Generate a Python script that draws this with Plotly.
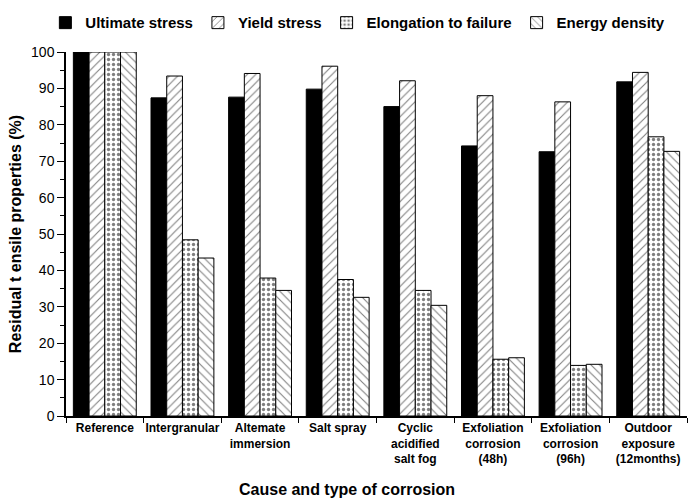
import plotly.graph_objects as go

categories = [
    "Reference",
    "Intergranular",
    "Altemate<br>immersion",
    "Salt spray",
    "Cyclic<br>acidified<br>salt fog",
    "Exfoliation<br>corrosion<br>(48h)",
    "Exfoliation<br>corrosion<br>(96h)",
    "Outdoor<br>exposure<br>(12months)",
]
ultimate_stress = [100, 87.4, 87.6, 89.8, 85.0, 74.2, 72.6, 91.8]
yield_stress = [100, 93.4, 94.1, 96.1, 92.1, 88.0, 86.3, 94.4]
elongation = [100, 48.4, 37.9, 37.5, 34.5, 15.6, 13.9, 76.7]
energy_density = [100, 43.4, 34.5, 32.6, 30.4, 16.0, 14.2, 72.7]
y_ticks = [0, 10, 20, 30, 40, 50, 60, 70, 80, 90, 100]

FONT = "Liberation Sans, Arial, sans-serif"

series = [
    ("Ultimate stress", ultimate_stress, "", "black"),
    ("Yield stress", yield_stress, "/", "white"),
    ("Elongation to failure", elongation, ".", "white"),
    ("Energy density", energy_density, "\\", "white"),
]

fig = go.Figure()
for name, vals, shape, color in series:
    marker = dict(color=color, line=dict(color="black", width=1))
    if shape:
        marker["pattern"] = dict(shape=shape, fgcolor="black", bgcolor="white",
                                 size=5 if shape == "." else 6,
                                 solidity=0.35 if shape == "." else 0.18,
                                 fillmode="overlay")
    fig.add_trace(go.Bar(name="<b>" + name + "</b>", x=categories, y=vals, marker=marker))

fig.update_layout(
    width=692, height=500,
    barmode="group", bargap=0.19, bargroupgap=0,
    plot_bgcolor="white", paper_bgcolor="white",
    margin=dict(l=66, r=5, t=52, b=84, autoexpand=False),
    font=dict(family=FONT, color="black", size=12),
    legend=dict(orientation="h", x=0.47, xanchor="center", y=1.08, yanchor="middle",
                font=dict(family=FONT, size=15, color="black"),
                traceorder="normal", itemwidth=30, tracegroupgap=0),
    showlegend=True,
    annotations=[dict(text="<b>Cause and type of corrosion</b>", xref="paper", yref="paper",
                      x=0.452, y=-0.203, xanchor="center", yanchor="middle", showarrow=False,
                      font=dict(family=FONT, size=16, color="black"))],
)
fig.update_yaxes(
    range=[0, 100], tickvals=y_ticks, showline=True, linecolor="black", linewidth=1.5,
    ticks="outside", ticklen=7, tickwidth=1.2, tickcolor="black", showgrid=False, zeroline=False,
    minor=dict(dtick=5, ticks="outside", ticklen=4, tickcolor="black", showgrid=False),
    tickfont=dict(family=FONT, size=14, color="black"),
    tickprefix="<b>", ticksuffix="</b>", automargin=False,
    title=dict(text="<b>Residual t ensile properties (%)</b>",
               font=dict(family=FONT, size=16, color="black"), standoff=5),
)
fig.update_xaxes(
    showline=True, linecolor="black", linewidth=1.5, ticks="outside", tickson="boundaries",
    ticklen=5, tickcolor="black", showgrid=False, tickangle=0, automargin=False,
    tickfont=dict(family=FONT, size=12, color="black"),
    tickprefix="<b>", ticksuffix="</b>",
)

fig.write_html("out.html", config={"displayModeBar": False},
               post_script="document.body.style.margin='0px';")
